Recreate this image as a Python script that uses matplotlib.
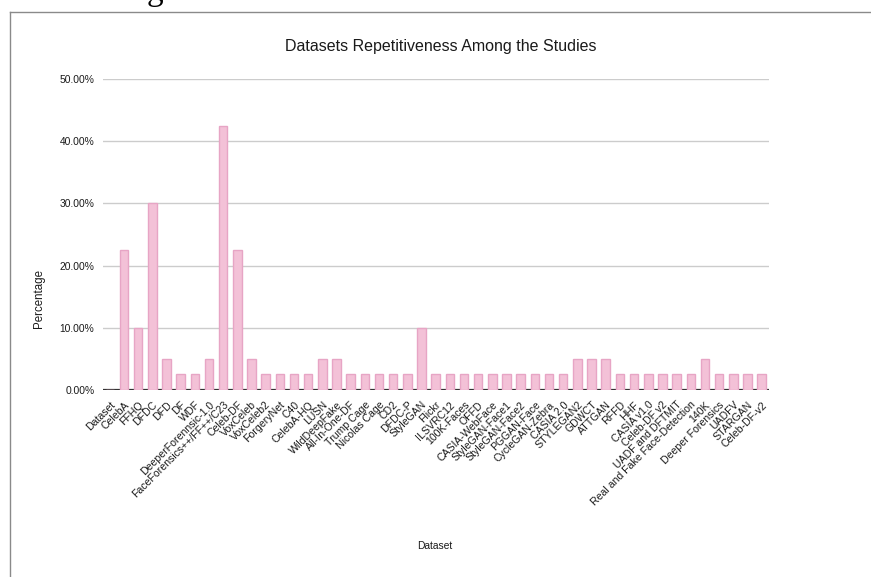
import matplotlib
matplotlib.use("Agg")
import matplotlib.pyplot as plt
from matplotlib.lines import Line2D
from matplotlib.ticker import FuncFormatter, MultipleLocator

plt.rcParams['font.family'] = ['Liberation Sans', 'DejaVu Sans']

datasets = [
    "Dataset", "CelebA", "FFHQ", "DFDC", "DFD", "DF", "WDF",
    "DeeperForennsic-1.0", "FaceForensics++/FF++/C23", "Celeb-DF",
    "VoxCeleb", "VoxCeleb2", "ForgeryNet", "C40", "CelebA-HQ", "LUSN",
    "WildDeepFake", "All-In-One-DF", "Trump Cage", "Nicolas Cage", "CD2",
    "DFDC-P", "StyleGAN", "Flickr", "ILSVRC12", "100K-Faces", "OFFD",
    "CASIA-WebFace", "StyleGAN-Face1", "StyleGAN-Face2", "PGGAN-Face",
    "CycleGAN-Zebra", "CASIA 2.0", "STYLEGAN2", "GDWCT", "ATTGAN", "RFFD",
    "HHF", "CASIA v1.0", "Celeb-DF v2", "UADF and DFTMIT",
    "Real and Fake Face-Detection", "140K", "Deeper Forensics", "UADFV",
    "STARGAN", "Celeb-DF-v2",
]
percentages = [
    0.0, 22.5, 10.0, 30.0, 5.0, 2.5, 2.5,
    5.0, 42.5, 22.5,
    5.0, 2.5, 2.5, 2.5, 2.5, 5.0,
    5.0, 2.5, 2.5, 2.5, 2.5,
    2.5, 10.0, 2.5, 2.5, 2.5, 2.5,
    2.5, 2.5, 2.5, 2.5,
    2.5, 2.5, 5.0, 5.0, 5.0, 2.5,
    2.5, 2.5, 2.5, 2.5,
    2.5, 5.0, 2.5, 2.5,
    2.5, 2.5,
]

W, H = 871, 577
fig = plt.figure(figsize=(W / 100, H / 100), dpi=100)

# page frame and the tail of a line of text above the chart
fig.add_artist(Line2D([10 / W, 1.0], [1 - 12 / H, 1 - 12 / H], color="#8a8a8a", lw=1.0))
fig.add_artist(Line2D([10 / W, 10 / W], [0.0, 1 - 12 / H], color="#8a8a8a", lw=1.0))
fig.text(147 / W, 1.0, "g", family="Liberation Serif", fontsize=24,
         ha="left", va="baseline", color="black")

left, right, top, bottom = 102.7, 768.7, 79, 390
ax = fig.add_axes([left / W, 1 - bottom / H, (right - left) / W, (bottom - top) / H])

x = range(len(datasets))
ax.bar(x, percentages, width=0.6, color="#f3c1d7", edgecolor="#e7a5c5",
       linewidth=1.0, zorder=3)

ax.set_xlim(-0.5, len(datasets) - 0.5)
ax.set_ylim(0, 50)
ax.yaxis.set_major_locator(MultipleLocator(10))
ax.yaxis.set_major_formatter(FuncFormatter(lambda v, _: f"{v:.2f}%"))
ax.grid(axis="y", color="#cccccc", lw=1.0, zorder=0)
ax.axhline(0, color="#333333", lw=1.6, zorder=2)

for s in ax.spines.values():
    s.set_visible(False)
ax.tick_params(axis="both", length=0)
ax.tick_params(axis="y", labelsize=7.4, labelcolor="#1a1a1a", pad=6)
ax.set_xticks(list(x))
ax.set_xticklabels(datasets, rotation=45, ha="right", rotation_mode="anchor",
                   fontsize=7.6, color="#1a1a1a")
ax.tick_params(axis="x", pad=7)

fig.text(441 / W, 1 - 47 / H, "Datasets Repetitiveness Among the Studies",
         ha="center", va="center", fontsize=11.5, color="#1a1a1a")
fig.text(39 / W, 1 - 298 / H, "Percentage", rotation=90, ha="center",
         va="center", fontsize=8.3, color="#1a1a1a")
fig.text(435 / W, 1 - 546 / H, "Dataset", ha="center", va="center",
         fontsize=7.4, color="#1a1a1a")

fig.savefig("out.png", dpi=100)
